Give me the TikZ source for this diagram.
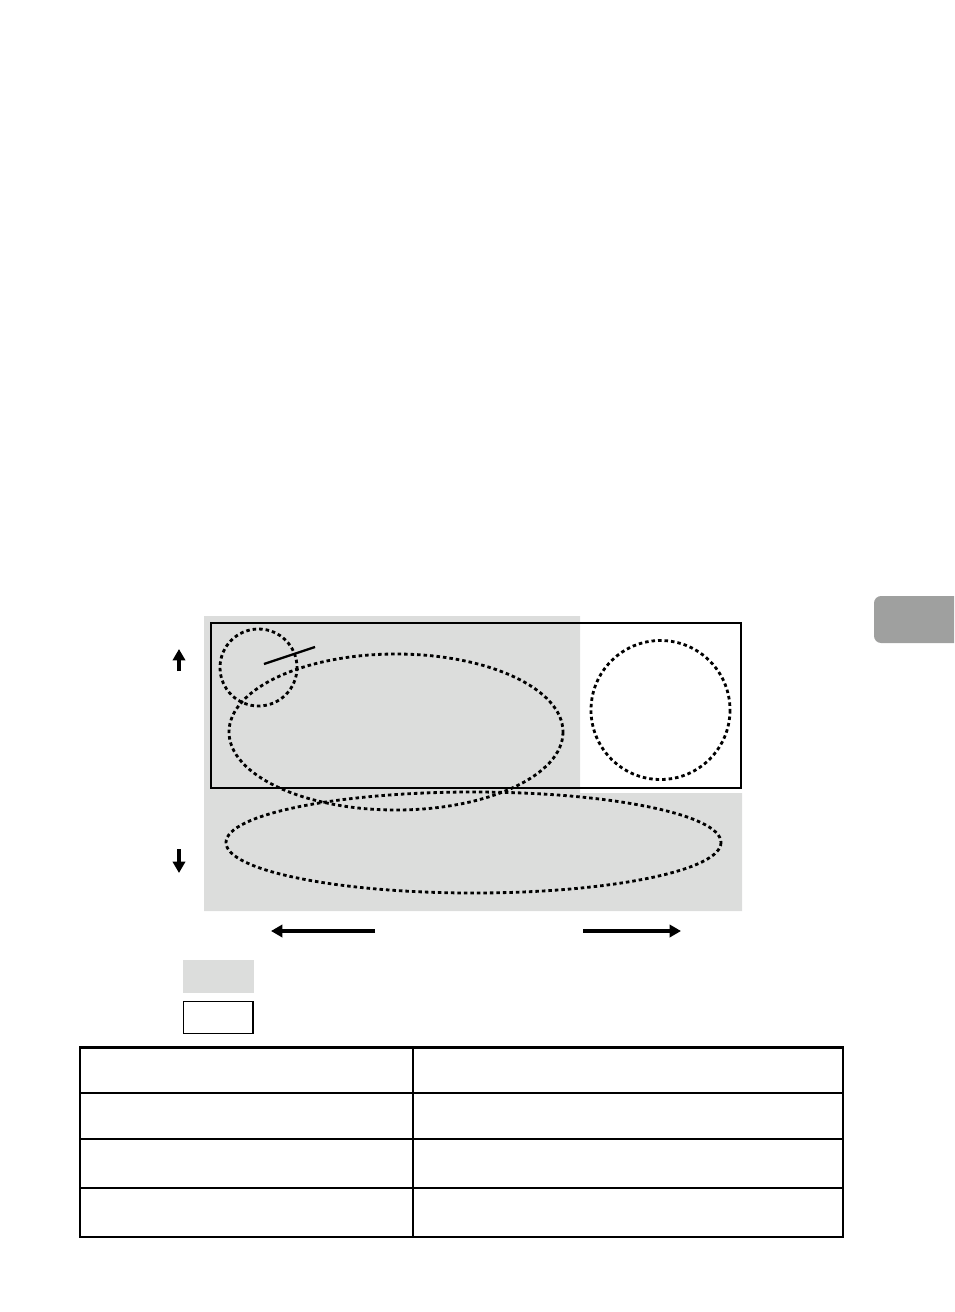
\documentclass[tikz,border=0pt]{standalone}
\usetikzlibrary{arrows.meta}
\definecolor{zonegray}{HTML}{DCDDDC}
\definecolor{tabgray}{HTML}{9FA09F}

\begin{document}
\begin{tikzpicture}[
      x=0.02cm, y=-0.02cm,
      dot line/.style ={line width=1.6pt,dash pattern=on 2pt off 1.7pt},
      frame line/.style={line width=1.1pt},
      move arrow/.style={line width=1.8pt,-{Triangle[length=6.5pt,width=7pt]}}]
    \useasboundingbox (0,0) rectangle (954,1312);
    \fill[tabgray, rounded corners=4] (954,596) -- (874,596) -- (874,643) -- (954,643);
    \fill[zonegray] (204,616) -- (580,616) -- (580,793) -- (742,793) -- (742,911) -- (204,911) -- cycle;
    \draw[frame line] (211,623) rectangle (741,788);
    \draw[dot line] (258.5,667.5) circle [radius=38.5];
    \draw[line width=1.3pt] (264,664) -- (315,647);
    \draw[dot line] (396,732) ellipse [x radius=167, y radius=78];
    \draw[dot line] (660.5,710) circle [radius=69.5];
    \draw[dot line] (473.5,842.5) ellipse [x radius=247.5, y radius=50.5];
    % arrows
    \coordinate (up a) at (179,671);   \coordinate (up b) at (179,649);
    \coordinate (down a) at (179,849); \coordinate (down b) at (179,873);
    \coordinate (left a) at (375,931); \coordinate (left b) at (271,931);
    \coordinate (right a) at (583,931); \coordinate (right b) at (681,931);
    \draw[move arrow] (up a) -- (up b);
    \draw[move arrow] (down a) -- (down b);
    \draw[move arrow] (left a) -- (left b);
    \draw[move arrow] (right a) -- (right b);
    % legend
    \fill[zonegray] (183,960) rectangle (254,993);
    \draw[frame line] (183.5,1001.5) rectangle (253,1033.5);
    % table
    \draw[frame line] (80,1047) rectangle (843,1237);
    \draw[line width=1.7pt] (79,1047) -- (844,1047);
    \draw[frame line] (413,1047) -- (413,1237);
    \foreach \ry in {1093,1139,1188}
      \draw[frame line] (80,\ry) -- (843,\ry);
    \end{tikzpicture}
\end{document}
